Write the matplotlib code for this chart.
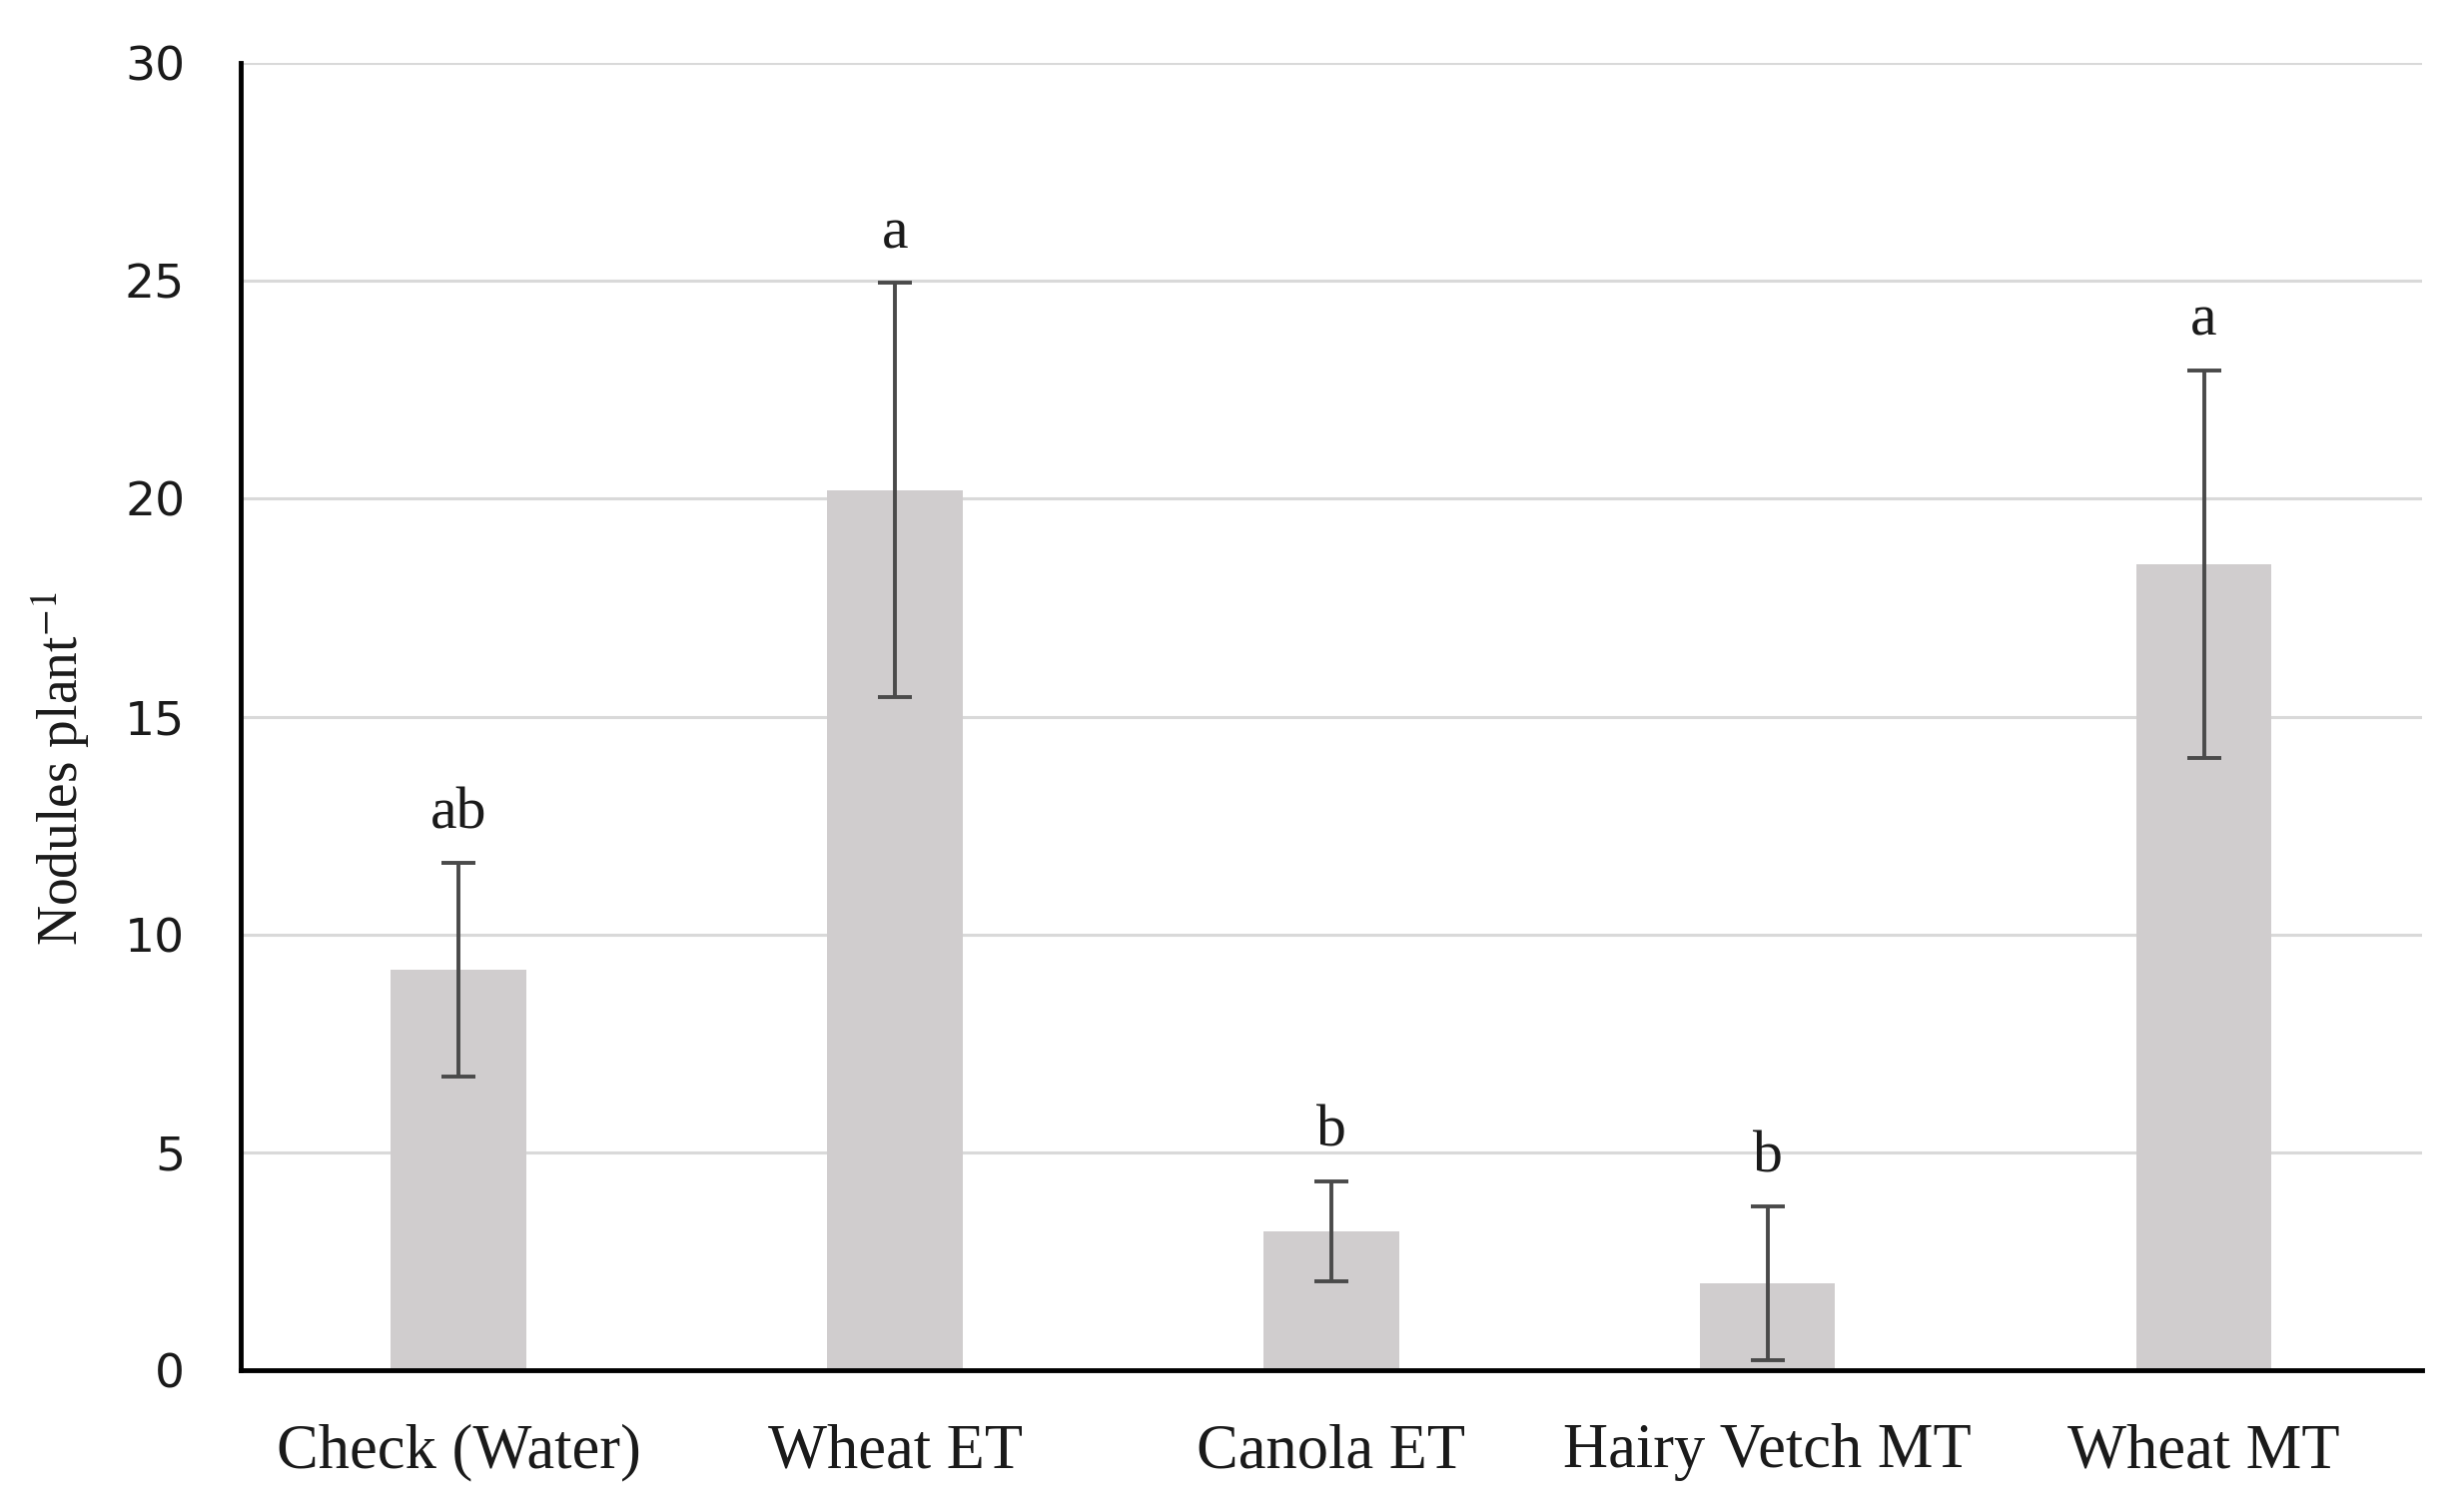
import matplotlib
matplotlib.use("Agg")
import matplotlib.pyplot as plt
import numpy as np

# values
treatments = ["Check (Water)", "Wheat ET", "Canola ET", "Hairy Vetch MT", "Wheat MT"]
nodules = [9.2, 20.2, 3.2, 2.0, 18.5]
errors = [2.45, 4.75, 1.15, 1.77, 4.45]
letters = ["ab", "a", "b", "b", "a"]

plt.rcParams['mathtext.fontset'] = 'stix'

fig = plt.figure(figsize=(24.67, 15.11), dpi=100)
ax = fig.add_axes([0.0976, 0.0917, 0.8854, 0.8666])

x = np.arange(len(treatments))
ax.bar(x, nodules, width=0.31, color="#d0cdce", zorder=2)
ax.errorbar(x, nodules, yerr=errors, fmt="none", ecolor="#4a4a4a",
            elinewidth=2.8, capsize=12.5, capthick=2.8, zorder=3)

# significance letters above the error bars
for xi, m, e, lab in zip(x, nodules, errors, letters):
    ax.text(xi, m + e + 0.5, lab, ha="center", va="bottom",
            fontsize=43, family="Liberation Serif", color="#1a1a1a")

ax.set_xlim(-0.5, 4.5)
ax.set_ylim(0, 30)
ax.set_yticks(np.arange(0, 31, 5))
ax.set_xticks(x)
ax.set_xticklabels(treatments, family="Liberation Serif", fontsize=45, color="#1a1a1a")
for lbl in ax.get_yticklabels():
    lbl.set_family("DejaVu Sans")
    lbl.set_fontsize(34)
    lbl.set_color("#1a1a1a")

ax.tick_params(axis="both", length=0)
ax.tick_params(axis="x", pad=38)
ax.tick_params(axis="y", pad=40)

ax.grid(True, axis="y", color="#d9d9d9", linewidth=2.2, zorder=0)
ax.set_axisbelow(True)

for s in ["top", "right"]:
    ax.spines[s].set_visible(False)
for s in ["left", "bottom"]:
    ax.spines[s].set_linewidth(3.5)
    ax.spines[s].set_color("black")

ax.set_ylabel("Nodules plant$^{-1}$", family="Liberation Serif", fontsize=40, color="#1a1a1a")
ax.yaxis.set_label_coords(-0.068, 0.46)

fig.savefig("out.png", dpi=100, facecolor="white")
